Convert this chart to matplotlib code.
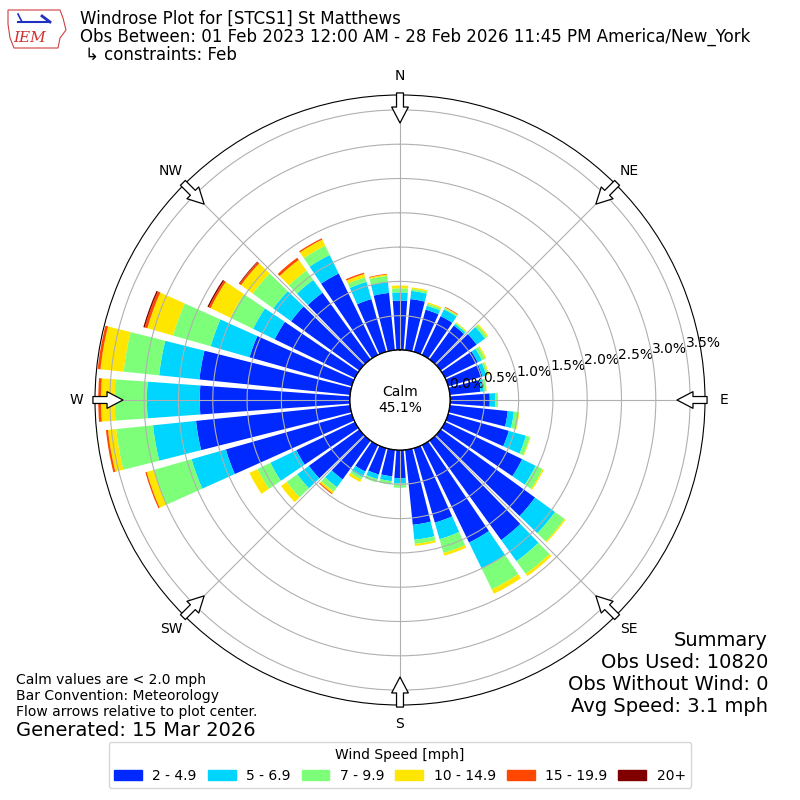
import numpy as np
import matplotlib
matplotlib.use("Agg")
import matplotlib.pyplot as plt
from matplotlib.patches import Polygon, Patch

# direction bins (deg, meteorological, clockwise from north)
directions = list(range(0, 360, 10))

# percent of obs in each speed bin per direction
spd_2_5 = [0.72, 0.75, 0.64, 0.63, 0.61, 0.65, 0.53, 0.52, 0.45, 0.58,
           0.85, 0.92, 1.25, 1.70, 1.79, 1.58, 1.13, 1.10, 0.41, 0.39,
           0.40, 0.43, 0.70, 0.91, 0.95, 1.91, 2.26, 2.19, 2.21, 1.55,
           1.30, 1.23, 1.20, 1.32, 0.80, 0.84]
spd_5_7 = [0.12, 0.12, 0.06, 0.11, 0.03, 0.15, 0.07, 0.06, 0.06, 0.08,
           0.09, 0.26, 0.22, 0.36, 0.38, 0.42, 0.25, 0.22, 0.08, 0.07,
           0.07, 0.09, 0.14, 0.21, 0.42, 0.52, 0.63, 0.77, 0.59, 0.59,
           0.35, 0.32, 0.23, 0.30, 0.26, 0.16]
spd_7_10 = [0.06, 0.03, 0.03, 0.02, 0.02, 0.04, 0.05, 0.03, 0.03, 0.04,
            0.07, 0.06, 0.11, 0.17, 0.23, 0.34, 0.21, 0.06, 0.06, 0.05,
            0.05, 0.04, 0.08, 0.19, 0.21, 0.57, 0.54, 0.47, 0.52, 0.57,
            0.37, 0.37, 0.17, 0.15, 0.07, 0.09]
spd_10_15 = [0.04, 0.02, 0.02, 0.01, 0.01, 0.02, 0.02, 0.015, 0.005, 0.0,
             0.01, 0.01, 0.02, 0.02, 0.04, 0.07, 0.04, 0.03, 0.0, 0.0,
             0.0, 0.04, 0.03, 0.10, 0.13, 0.11, 0.12, 0.20, 0.34, 0.39,
             0.32, 0.21, 0.19, 0.10, 0.05, 0.02]
spd_15_20 = [0.0, 0.0, 0.0, 0.01, 0.0, 0.0, 0.0, 0.0, 0.0, 0.0,
             0.0, 0.0, 0.0, 0.0, 0.0, 0.0, 0.0, 0.0, 0.0, 0.0,
             0.0, 0.0, 0.015, 0.0, 0.0, 0.02, 0.03, 0.04, 0.04, 0.04,
             0.03, 0.03, 0.04, 0.02, 0.02, 0.01]
spd_20 = [0.0] * 29 + [0.02, 0.02, 0.01, 0.0, 0.0, 0.0, 0.0]

speed_labels = ["2 - 4.9", "5 - 6.9", "7 - 9.9", "10 - 14.9", "15 - 19.9", "20+"]
compass = ["N", "NE", "E", "SE", "S", "SW", "W", "NW"]
calm_pct = 45.1

fig = plt.figure(figsize=(8, 8), dpi=100)

# calm circle radius 50px, 0.5% ring every 34.3px, outer edge at 305px
px_per_pct = 68.6
rmax = 255 / px_per_pct
ax = fig.add_axes([95 / 800, 95 / 800, 610 / 800, 610 / 800], projection="polar")
ax.set_theta_zero_location("N")
ax.set_theta_direction(-1)
ax.set_rorigin(-50 / px_per_pct)
ax.set_ylim(0, rmax)

colors = plt.cm.jet(np.linspace(1 / 6, 1, 6))
theta = np.deg2rad(directions)
bottom = np.zeros(len(directions))
for vals, col in zip([spd_2_5, spd_5_7, spd_7_10, spd_10_15, spd_15_20, spd_20], colors):
    ax.bar(theta, vals, width=np.deg2rad(8.3), bottom=bottom, color=col,
           edgecolor="none", align="center")
    bottom = bottom + np.array(vals)

rt = np.arange(0, 3.51, 0.5)
ax.set_yticks(rt)
ax.set_yticklabels([f"{v:.1f}%" for v in rt])
ax.set_rlabel_position(80)
ax.set_xticks(np.deg2rad(np.arange(0, 360, 45)))
ax.set_xticklabels(compass)
ax.tick_params(axis="x", pad=3)

# edge of the calm circle
tt = np.linspace(0, 2 * np.pi, 361)
ax.plot(tt, np.zeros_like(tt), color="k", lw=1.2, zorder=5)
ax.text(0, ax.get_rorigin(), f"Calm\n{calm_pct:.1f}%", ha="center", va="center",
        fontsize=10, zorder=6)

# flow arrows on the outer ring
r_in = (277 - 50) / px_per_pct
for a in range(0, 360, 45):
    ax.annotate("", xy=(np.deg2rad(a), r_in), xytext=(np.deg2rad(a), rmax + 0.03),
                arrowprops=dict(arrowstyle="simple,head_length=1.15,head_width=1.2,tail_width=0.5",
                                mutation_scale=10, fc="white", ec="k", lw=0.9,
                                shrinkA=0, shrinkB=0),
                annotation_clip=False, zorder=7)

# header
fig.text(80 / 800, 1 - 19 / 800, "Windrose Plot for [STCS1] St Matthews", fontsize=12, va="center")
fig.text(80 / 800, 1 - 37 / 800,
         "Obs Between: 01 Feb 2023 12:00 AM - 28 Feb 2026 11:45 PM America/New_York",
         fontsize=12, va="center")
fig.text(85 / 800, 1 - 55 / 800, "\u21b3 constraints: Feb", fontsize=12, va="center")

# rough IEM logo
iowa = [(8, 10), (60, 10), (63, 18), (66, 30), (60, 38), (58, 48), (14, 48), (10, 38), (8, 24)]
fig.add_artist(Polygon([(x / 800, 1 - y / 800) for x, y in iowa], closed=True, fill=False,
                       ec="#d04040", lw=0.8, transform=fig.transFigure))
fig.add_artist(plt.Line2D([18 / 800, 48 / 800], [1 - 22 / 800, 1 - 22 / 800], color="#2030c0", lw=1.5))
fig.add_artist(plt.Line2D([18 / 800, 22 / 800], [1 - 14 / 800, 1 - 22 / 800], color="#2030c0", lw=1.2))
fig.add_artist(plt.Line2D([42 / 800, 50 / 800], [1 - 16 / 800, 1 - 22 / 800], color="#2030c0", lw=2))
fig.text(30 / 800, 1 - 38 / 800, "IEM", color="#d03030", fontsize=11, style="italic",
         family="DejaVu Serif", ha="center", va="center")

# footer notes
fig.text(16 / 800, 1 - 680 / 800, "Calm values are < 2.0 mph", fontsize=10, va="center")
fig.text(16 / 800, 1 - 696 / 800, "Bar Convention: Meteorology", fontsize=10, va="center")
fig.text(16 / 800, 1 - 712 / 800, "Flow arrows relative to plot center.", fontsize=10, va="center")
fig.text(16 / 800, 1 - 730 / 800, "Generated: 15 Mar 2026", fontsize=14, va="center")

summary = ["Summary", "Obs Used: 10820", "Obs Without Wind: 0", "Avg Speed: 3.1 mph"]
for i, s in enumerate(summary):
    fig.text(768 / 800, 1 - (640 + 22 * i) / 800, s, fontsize=14, ha="right", va="center")

handles = [Patch(color=c) for c in colors]
fig.legend(handles, speed_labels, loc="lower center", bbox_to_anchor=(0.5, 0.006), ncol=6,
           title="Wind Speed [mph]", fontsize=10, title_fontsize=10, handlelength=2.0,
           handletextpad=0.75, columnspacing=0.8)

fig.savefig("out.png", dpi=100)
